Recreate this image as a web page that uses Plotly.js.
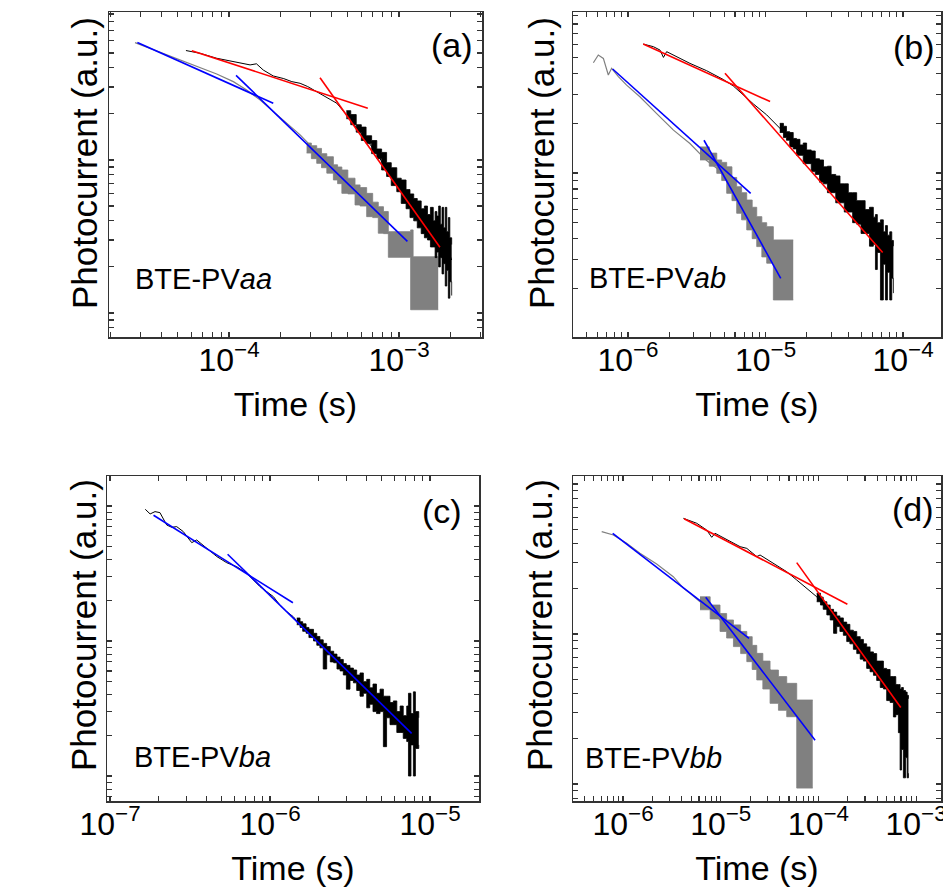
<!DOCTYPE html>
<html>
<head>
<meta charset="utf-8">
<script src="https://cdn.plot.ly/plotly-3.0.1.min.js"></script>
<style>html,body{margin:0;padding:0;background:#fff}#chart{width:943px;height:892px}</style>
</head>
<body>
<div id="chart"></div>
<script>
// ---------- Panel (a) BTE-PVaa ----------
const aGrayT = [2.8e-5, 3.43e-5, 4.3e-5, 5.38e-5, 6.75e-5, 8.46e-5, 1.06e-4, 1.27e-4, 1.52e-4, 1.82e-4, 2.18e-4, 2.62e-4, 3.13e-4, 3.76e-4, 4.5e-4, 5.38e-4, 6.45e-4];
const aGrayY = [58.5, 53.7, 48.5, 43.9, 40.1, 36.5, 32.5, 28.7, 24.7, 20.7, 17.4, 14.6, 11.9, 10.0, 8.2, 6.87, 5.76];
const aGrayBandT  = [2.86e-4, 3.05e-4, 3.28e-4, 3.5e-4, 3.76e-4, 4.11e-4, 4.35e-4, 4.61e-4, 5.0e-4, 5.51e-4, 5.9e-4, 6.45e-4, 7.0e-4, 7.55e-4, 8.1e-4, 8.65e-4, 1.0e-3, 1.17e-3, 1.21e-3, 1.70e-3];
const aGrayBandHi = [12.9, 12.4, 11.9, 11.0, 10.5, 9.3, 9.0, 8.6, 7.6, 6.87, 6.6, 6.05, 5.3, 4.95, 4.6, 3.40, 3.40, 3.49, 2.33, 2.33];
const aGrayBandLo = [11.1, 10.2, 9.5, 8.9, 8.2, 7.4, 7.0, 6.05, 6.0, 5.08, 5.0, 4.26, 4.2, 3.32, 3.3, 2.31, 2.31, 1.05, 1.05, 1.05];
const aBlackT = [5.58e-5, 6.2e-5, 6.75e-5, 8.46e-5, 1.06e-4, 1.33e-4, 1.45e-4, 1.59e-4, 1.82e-4, 2.1e-4, 2.34e-4, 2.62e-4, 2.9e-4, 3.13e-4, 3.76e-4, 4.3e-4, 4.92e-4, 5.64e-4, 6.45e-4, 7.39e-4, 8.46e-4, 9.68e-4, 1.11e-3, 1.27e-3, 1.46e-3, 1.67e-3, 1.91e-3, 2.04e-3];
const aBlackY = [51.9, 50.5, 49.8, 46.2, 43.9, 41.8, 42.5, 38.7, 35.4, 34.0, 32.5, 31.7, 30.2, 28.7, 25.7, 23.5, 19.7, 16.1, 13.5, 11.1, 8.6, 6.87, 5.48, 4.48, 3.67, 3.15, 2.71, 2.22];
const aBlackBandT  = [4.9e-4, 5.2e-4, 5.6e-4, 6.0e-4, 6.4e-4, 6.9e-4, 7.4e-4, 7.9e-4, 8.45e-4, 9.0e-4, 9.7e-4, 1.03e-3, 1.1e-3, 1.16e-3, 1.22e-3, 1.28e-3, 1.35e-3, 1.41e-3, 1.47e-3, 1.53e-3, 1.59e-3, 1.63e-3, 1.67e-3, 1.71e-3, 1.75e-3, 1.79e-3, 1.83e-3, 1.87e-3, 1.91e-3, 1.95e-3, 1.99e-3, 2.04e-3];
const aBlackBandHi = [21.0, 19.8, 17.0, 16.4, 14.4, 13.4, 11.8, 11.2, 9.6, 8.9, 7.6, 7.4, 6.4, 6.0, 5.6, 5.4, 4.8, 5.0, 4.4, 4.9, 4.0, 4.6, 4.3, 5.0, 3.8, 4.9, 3.6, 4.9, 3.4, 4.2, 3.1, 2.8];
const aBlackBandLo = [18.6, 17.0, 15.2, 13.4, 12.8, 11.0, 10.2, 8.6, 7.8, 6.8, 6.2, 5.2, 4.8, 4.2, 4.0, 3.6, 3.3, 3.1, 3.0, 2.7, 2.7, 2.3, 2.5, 2.0, 2.3, 1.8, 2.1, 1.5, 1.9, 1.25, 1.6, 1.3];
const aRed1T = [6.04e-5, 6.55e-4], aRed1Y = [51.8, 21.8];
const aRed2T = [3.43e-4, 1.74e-3], aRed2Y = [34.5, 2.69];
const aBlue1T = [2.89e-5, 1.82e-4], aBlue1Y = [58.5, 23.5];
const aBlue2T = [1.10e-4, 1.12e-3], aBlue2Y = [35.7, 2.94];

// ---------- Panel (b) BTE-PVab ----------
const bGrayT = [5.6e-7, 6.08e-7, 6.62e-7, 7.19e-7, 7.6e-7, 8.51e-7, 9.77e-7, 1.22e-6, 1.61e-6, 2.14e-6, 2.82e-6, 3.34e-6, 3.73e-6, 4.42e-6, 5.22e-6, 6.17e-6, 7.3e-6];
const bGrayY = [46.6, 51.9, 49.5, 39.3, 43.1, 38.4, 34.1, 29.0, 23.0, 18.2, 15.1, 13.0, 11.9, 10.7, 9.07, 7.53, 5.97];
const bGrayBandT  = [3.34e-6, 3.9e-6, 4.42e-6, 4.8e-6, 5.22e-6, 5.7e-6, 6.17e-6, 6.7e-6, 7.3e-6, 8.0e-6, 8.63e-6, 9.4e-6, 1.02e-5, 1.14e-5, 1.59e-5];
const bGrayBandHi = [14.4, 13.2, 12.0, 11.6, 10.9, 9.4, 8.26, 7.6, 6.86, 6.2, 5.44, 5.0, 4.73, 3.93, 3.93];
const bGrayBandLo = [12.0, 11.0, 9.95, 9.0, 7.53, 6.8, 5.70, 5.2, 4.52, 4.0, 3.58, 3.1, 2.84, 1.70, 1.70];
const bBlackT = [1.29e-6, 1.53e-6, 1.71e-6, 1.81e-6, 1.91e-6, 2.14e-6, 2.82e-6, 3.73e-6, 4.93e-6, 5.83e-6, 6.9e-6, 8.17e-6, 1.02e-5, 1.27e-5, 1.59e-5, 1.99e-5, 2.64e-5, 3.48e-5, 4.6e-5, 6.08e-5, 7.19e-5, 8.28e-5];
const bBlackY = [60.5, 58.3, 55.6, 50.2, 54.4, 51.9, 46.2, 41.7, 36.9, 33.7, 29.7, 26.2, 22.5, 18.7, 15.1, 12.6, 9.7, 7.53, 5.83, 4.52, 3.58, 2.97];
const bBlackBandT  = [1.27e-5, 1.35e-5, 1.42e-5, 1.5e-5, 1.59e-5, 1.68e-5, 1.78e-5, 1.88e-5, 1.99e-5, 2.15e-5, 2.3e-5, 2.47e-5, 2.64e-5, 2.82e-5, 3.0e-5, 3.24e-5, 3.48e-5, 3.74e-5, 4.0e-5, 4.3e-5, 4.6e-5, 4.95e-5, 5.3e-5, 5.7e-5, 6.08e-5, 6.3e-5, 6.5e-5, 6.85e-5, 7.19e-5, 7.45e-5, 7.7e-5, 8.0e-5, 8.28e-5, 8.51e-5];
const bBlackBandHi = [20.0, 19.2, 17.8, 17.6, 16.2, 16.0, 14.8, 15.2, 13.8, 13.6, 12.2, 12.0, 10.9, 11.0, 9.8, 9.6, 8.6, 8.6, 7.6, 7.6, 6.8, 6.8, 6.0, 6.2, 5.4, 5.6, 5.0, 5.2, 4.4, 4.8, 4.2, 4.4, 3.9, 3.6];
const bBlackBandLo = [17.6, 16.4, 15.8, 14.4, 14.0, 12.8, 12.8, 11.4, 11.4, 10.2, 9.8, 8.8, 8.6, 7.6, 7.6, 6.6, 6.6, 5.8, 5.8, 5.0, 4.9, 4.3, 4.3, 3.6, 3.7, 2.6, 3.3, 1.70, 2.8, 1.70, 2.5, 1.70, 2.3, 1.87];
const bRed1T = [1.29e-6, 1.08e-5], bRed1Y = [60.5, 27.1];
const bRed2T = [5.07e-6, 7.11e-5], bRed2Y = [40.2, 3.30];
const bBlue1T = [7.73e-7, 7.8e-6], bBlue1Y = [42.7, 7.53];
const bBlue2T = [3.57e-6, 1.29e-5], bBlue2Y = [15.8, 2.30];

// ---------- Panel (c) BTE-PVba ----------
const cBlackT = [1.66e-7, 1.78e-7, 1.91e-7, 2.05e-7, 2.26e-7, 2.43e-7, 2.61e-7, 2.87e-7, 3.01e-7, 3.24e-7, 3.48e-7, 4.02e-7, 4.65e-7, 5.36e-7, 6.19e-7, 7.15e-7, 7.87e-7, 8.65e-7, 9.53e-7, 1.05e-6, 1.15e-6, 1.27e-6, 1.40e-6, 1.54e-6, 1.87e-6, 2.26e-6, 2.74e-6, 3.32e-6, 4.02e-6, 4.87e-6, 5.9e-6, 7.15e-6, 8.26e-6];
const cBlackY = [94.5, 87.3, 90.8, 89.3, 72.3, 69.5, 70.3, 64.6, 59.9, 53.5, 56.0, 48.5, 42.2, 38.0, 35.5, 31.7, 28.3, 25.3, 23.2, 21.3, 18.5, 16.5, 15.1, 13.1, 10.8, 8.58, 6.84, 5.6, 4.59, 3.66, 2.91, 2.32, 2.07];
const cBlackBandT  = [1.47e-6, 1.54e-6, 1.6e-6, 1.68e-6, 1.75e-6, 1.87e-6, 1.96e-6, 2.05e-6, 2.15e-6, 2.26e-6, 2.38e-6, 2.5e-6, 2.62e-6, 2.74e-6, 2.87e-6, 3.0e-6, 3.16e-6, 3.32e-6, 3.48e-6, 3.65e-6, 3.83e-6, 4.02e-6, 4.2e-6, 4.4e-6, 4.63e-6, 4.87e-6, 5.11e-6, 5.35e-6, 5.62e-6, 5.9e-6, 6.2e-6, 6.5e-6, 6.8e-6, 7.15e-6, 7.33e-6, 7.6e-6, 7.87e-6, 8.1e-6, 8.5e-6];
const cBlackBandHi = [14.8, 13.9, 13.4, 12.6, 12.2, 11.4, 10.8, 10.2, 9.6, 9.1, 8.4, 8.0, 7.6, 7.3, 6.8, 6.6, 6.3, 6.1, 5.6, 5.8, 5.0, 5.2, 4.5, 4.8, 4.1, 4.4, 3.9, 3.9, 3.5, 3.6, 3.0, 3.3, 2.8, 3.3, 4.1, 2.9, 4.2, 3.0, 2.7];
const cBlackBandLo = [13.2, 12.6, 11.8, 11.4, 10.6, 10.0, 9.3, 8.9, 6.2, 7.9, 7.0, 6.9, 6.2, 6.0, 5.6, 4.4, 5.1, 4.9, 4.3, 3.9, 4.1, 3.2, 3.4, 3.0, 2.9, 3.0, 1.65, 2.7, 2.4, 2.4, 2.1, 2.1, 1.9, 1.8, 1.0, 1.7, 1.0, 1.6, 1.7];
const cBlue1T = [1.87e-7, 1.39e-6], cBlue1Y = [85.3, 19.2];
const cBlue2T = [5.43e-7, 7.67e-6], cBlue2Y = [43.9, 2.07];

// ---------- Panel (d) BTE-PVbb ----------
const dGrayT = [6.05e-7, 6.81e-7, 7.96e-7, 1.09e-6, 1.49e-6, 2.21e-6, 3.27e-6, 4.15e-6, 4.85e-6, 6.14e-6, 7.78e-6, 9.84e-6, 1.35e-5, 1.85e-5, 2.53e-5, 3.46e-5, 4.74e-5];
const dGrayY = [48.1, 46.9, 45.7, 40.2, 34.5, 29.3, 24.1, 20.2, 18.7, 16.4, 14.8, 12.4, 10.1, 8.24, 6.71, 5.47, 4.46];
const dGrayBandT  = [6.14e-6, 7.8e-6, 9.84e-6, 1.15e-5, 1.35e-5, 1.6e-5, 1.85e-5, 2.1e-5, 2.34e-5, 2.7e-5, 3.2e-5, 3.9e-5, 4.74e-5, 6.0e-5, 8.75e-5];
const dGrayBandHi = [17.7, 15.6, 13.7, 12.4, 11.5, 10.4, 9.6, 8.4, 7.43, 6.6, 5.75, 5.2, 4.69, 3.63, 3.63];
const dGrayBandLo = [14.5, 12.6, 10.4, 9.4, 8.24, 7.4, 6.54, 5.8, 4.94, 4.3, 3.45, 3.1, 2.81, 0.94, 0.94];
const dBlackT = [4.15e-6, 5.68e-6, 7.19e-6, 8.09e-6, 8.75e-6, 1.15e-5, 1.58e-5, 1.85e-5, 2.34e-5, 2.53e-5, 3.46e-5, 4.06e-5, 4.74e-5, 6.0e-5, 7.6e-5, 9.62e-5, 1.12e-4, 1.43e-4, 1.80e-4, 2.28e-4, 2.89e-4, 3.66e-4, 4.63e-4, 5.86e-4, 6.86e-4];
const dBlackY = [59.0, 54.7, 49.3, 44.1, 46.9, 42.4, 38.2, 37.2, 32.8, 33.6, 29.6, 27.4, 26.0, 22.9, 20.2, 17.7, 15.6, 13.0, 11.2, 9.12, 7.43, 6.06, 4.94, 4.02, 3.28];
const dBlackBandT  = [9.62e-5, 1.05e-4, 1.12e-4, 1.22e-4, 1.32e-4, 1.43e-4, 1.54e-4, 1.66e-4, 1.8e-4, 1.95e-4, 2.1e-4, 2.28e-4, 2.47e-4, 2.68e-4, 2.89e-4, 3.12e-4, 3.38e-4, 3.66e-4, 3.95e-4, 4.3e-4, 4.63e-4, 5.0e-4, 5.42e-4, 5.86e-4, 6.2e-4, 6.59e-4, 6.86e-4, 7.1e-4, 7.41e-4, 7.8e-4, 8.1e-4, 8.35e-4];
const dBlackBandHi = [18.7, 17.6, 16.4, 15.6, 14.6, 14.0, 13.2, 12.8, 12.0, 11.6, 10.6, 10.4, 9.6, 9.2, 8.6, 8.2, 7.6, 7.4, 6.6, 6.6, 5.9, 5.8, 5.2, 5.2, 4.6, 4.6, 4.3, 4.4, 4.2, 4.1, 3.9, 3.7];
const dBlackBandLo = [16.4, 15.6, 14.6, 13.4, 12.4, 10.1, 11.2, 10.4, 9.8, 8.9, 8.6, 7.9, 7.4, 6.8, 6.6, 5.9, 5.6, 5.3, 4.9, 4.4, 4.3, 3.6, 3.5, 2.8, 2.9, 2.2, 1.24, 1.7, 1.10, 1.5, 1.10, 1.18];
const dRed1T = [4.22e-6, 1.98e-4], dRed1Y = [58.7, 15.8];
const dRed2T = [6.0e-5, 6.97e-4], dRed2Y = [29.9, 3.24];
const dBlue1T = [7.84e-7, 1.95e-5], dBlue1Y = [46.9, 9.35];
const dBlue2T = [7.02e-6, 9.25e-5], dBlue2Y = [17.6, 1.96];

const panelLabels = ['(a)', '(b)', '(c)', '(d)'];
const sampleNames = ['BTE-PV<i>aa</i>', 'BTE-PV<i>ab</i>', 'BTE-PV<i>ba</i>', 'BTE-PV<i>bb</i>'];
const xTitle = 'Time (s)';
const yTitle = 'Photocurrent (a.u.)';

// ---------- build ----------
const FONT = 'Liberation Sans, Arial, Helvetica, sans-serif';
const GRAY = '#808080', BLACK = '#000000', RED = '#ff0000', BLUE = '#0000ff';
const traces = [];
function line(ax, t, y, color, width) {
  traces.push({x: t, y: y, xaxis: 'x' + ax, yaxis: 'y' + ax, type: 'scatter', mode: 'lines',
    line: {color: color, width: width}, hoverinfo: 'skip', showlegend: false});
}
function band(ax, t, hi, lo, color) {
  traces.push({x: t, y: lo, xaxis: 'x' + ax, yaxis: 'y' + ax, type: 'scatter', mode: 'lines',
    line: {color: color, width: 0.8, shape: 'hv'}, hoverinfo: 'skip', showlegend: false});
  traces.push({x: t, y: hi, xaxis: 'x' + ax, yaxis: 'y' + ax, type: 'scatter', mode: 'lines',
    fill: 'tonexty', fillcolor: color, line: {color: color, width: 0.8, shape: 'hv'},
    hoverinfo: 'skip', showlegend: false});
}
// (a)
band('', aGrayBandT, aGrayBandHi, aGrayBandLo, GRAY);
line('', aGrayT, aGrayY, GRAY, 1.2);
band('', aBlackBandT, aBlackBandHi, aBlackBandLo, BLACK);
line('', aBlackT, aBlackY, BLACK, 1);
line('', aBlue1T, aBlue1Y, BLUE, 1.6); line('', aBlue2T, aBlue2Y, BLUE, 1.6);
line('', aRed1T, aRed1Y, RED, 1.6); line('', aRed2T, aRed2Y, RED, 1.6);
// (b)
band('2', bGrayBandT, bGrayBandHi, bGrayBandLo, GRAY);
line('2', bGrayT, bGrayY, GRAY, 1.2);
band('2', bBlackBandT, bBlackBandHi, bBlackBandLo, BLACK);
line('2', bBlackT, bBlackY, BLACK, 1);
line('2', bBlue1T, bBlue1Y, BLUE, 1.6); line('2', bBlue2T, bBlue2Y, BLUE, 1.6);
line('2', bRed1T, bRed1Y, RED, 1.6); line('2', bRed2T, bRed2Y, RED, 1.6);
// (c)
band('3', cBlackBandT, cBlackBandHi, cBlackBandLo, BLACK);
line('3', cBlackT, cBlackY, BLACK, 1);
line('3', cBlue1T, cBlue1Y, BLUE, 1.6); line('3', cBlue2T, cBlue2Y, BLUE, 1.6);
// (d)
band('4', dGrayBandT, dGrayBandHi, dGrayBandLo, GRAY);
line('4', dGrayT, dGrayY, GRAY, 1.2);
band('4', dBlackBandT, dBlackBandHi, dBlackBandLo, BLACK);
line('4', dBlackT, dBlackY, BLACK, 1);
line('4', dBlue1T, dBlue1Y, BLUE, 1.6); line('4', dBlue2T, dBlue2Y, BLUE, 1.6);
line('4', dRed1T, dRed1Y, RED, 1.6); line('4', dRed2T, dRed2Y, RED, 1.6);

const W = 943, H = 892;
// plot boxes in pixels [left, right, top, bottom]
const boxes = [[109, 482, 12, 337], [573, 941, 12, 337], [107, 479, 476, 801], [573, 941, 476, 801]];
const xRanges = [[-4.706, -2.512], [-6.4, -3.724], [-7.019, -4.694], [-6.512, -2.745]];
const yRanges = [[-0.157, 1.967], [0.006, 1.976], [-0.185, 2.222], [-0.113, 2.053]];
// tick positions 1..9 x 10^k over the range; labels only on decades
function logTicks(r, withText) {
  const vals = [], text = [];
  for (let k = Math.floor(r[0]); k <= Math.ceil(r[1]); k++) {
    for (let m = 1; m <= 9; m++) {
      vals.push(m * Math.pow(10, k));
      text.push(withText && m === 1 ? '10<sup>' + (k < 0 ? '\u2212' + (-k) : k) + '</sup>' : '');
    }
  }
  return {vals, text};
}
const layout = {width: W, height: H, margin: {l: 0, r: 0, t: 0, b: 0}, paper_bgcolor: '#fff', plot_bgcolor: '#fff',
  font: {family: FONT, color: '#000'}, showlegend: false, annotations: []};
const axCommon = {type: 'log', ticks: 'inside', ticklen: 5, tickwidth: 1.1, tickcolor: '#333', tickmode: 'array',
  showline: true, linecolor: '#333', linewidth: 1.5, mirror: 'ticks', showgrid: false, zeroline: false, automargin: false};
boxes.forEach((b, i) => {
  const s = i === 0 ? '' : String(i + 1);
  const xt = logTicks(xRanges[i], true), yt = logTicks(yRanges[i], false);
  layout['xaxis' + s] = Object.assign({}, axCommon, {
    domain: [b[0] / W, b[1] / W], range: xRanges[i], anchor: 'y' + s,
    tickvals: xt.vals, ticktext: xt.text, ticklabeloverflow: 'allow',
    tickfont: {size: 32, family: FONT, color: '#000'}, ticklabelstandoff: -6,
    title: {text: xTitle, font: {size: 34, family: FONT, color: '#000'}, standoff: 15}});
  layout['yaxis' + s] = Object.assign({}, axCommon, {
    domain: [1 - b[3] / H, 1 - b[2] / H], range: yRanges[i], anchor: 'x' + s,
    tickvals: yt.vals, showticklabels: false});
});
// y-axis titles (placed as rotated annotations to match the reference placement)
const yTitlePos = [[84, 163], [541, 163], [83, 625], [539, 625]];
yTitlePos.forEach(p => layout.annotations.push({xref: 'paper', yref: 'paper', x: p[0] / W, y: 1 - p[1] / H,
  text: yTitle, textangle: -90, showarrow: false, xanchor: 'center', yanchor: 'middle',
  font: {size: 35, family: FONT, color: '#000'}}));
const labelPos = [[0.92, 0.898], [0.927, 0.892], [0.90, 0.892], [0.924, 0.898]];
const namePos = [[0.064, 0.178], [0.038, 0.182], [0.067, 0.135], [0.027, 0.132]];
for (let i = 0; i < 4; i++) {
  const s = i === 0 ? '' : String(i + 1);
  layout.annotations.push({xref: 'x' + s + ' domain', yref: 'y' + s + ' domain', x: labelPos[i][0], y: labelPos[i][1],
    text: panelLabels[i], showarrow: false, xanchor: 'center', yanchor: 'middle', font: {size: 34, family: FONT, color: '#000'}});
  layout.annotations.push({xref: 'x' + s + ' domain', yref: 'y' + s + ' domain', x: namePos[i][0], y: namePos[i][1],
    text: sampleNames[i], showarrow: false, xanchor: 'left', yanchor: 'middle', font: {size: 29, family: FONT, color: '#000'}});
}
Plotly.newPlot('chart', traces, layout, {staticPlot: true, displayModeBar: false});
</script>
</body>
</html>
